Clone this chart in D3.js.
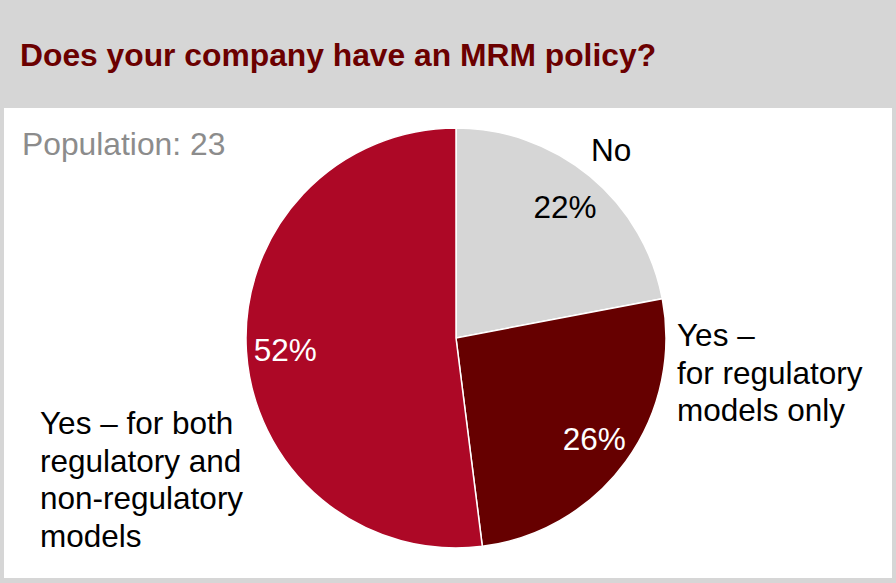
<!DOCTYPE html>
<html>
<head>
<meta charset="utf-8">
<script src="https://cdn.jsdelivr.net/npm/d3@7"></script>
<style>
  body { margin: 0; background: #d6d6d6; }
  svg { display: block; }
</style>
</head>
<body>
<script>
var width = 896;
var height = 583;

var categories = ['No', 'Yes – for regulatory models only', 'Yes – for both regulatory and non-regulatory models'];
var values = [22, 26, 52];
var colors = ['#d6d6d6', '#660000', '#ad0826'];
var labelColors = ['#000000', '#ffffff', '#ffffff'];

var title = 'Does your company have an MRM policy?';
var population = 'Population: 23';

var cx = 456;
var cy = 338;
var radius = 210;
var fontFamily = 'Liberation Sans, Arial, sans-serif';

var svg = d3.select('body')
  .append('svg')
  .attr('width', width)
  .attr('height', height);

svg.append('rect')
  .attr('width', width)
  .attr('height', height)
  .attr('fill', '#d6d6d6');

svg.append('rect')
  .attr('x', 4)
  .attr('y', 108)
  .attr('width', 888)
  .attr('height', 470)
  .attr('fill', '#ffffff');

svg.append('text')
  .attr('x', 20)
  .attr('y', 66)
  .attr('font-family', fontFamily)
  .attr('font-size', '31.8px')
  .attr('font-weight', 'bold')
  .attr('fill', '#6b0000')
  .text(title);

svg.append('text')
  .attr('x', 22)
  .attr('y', 155)
  .attr('font-family', fontFamily)
  .attr('font-size', '31.8px')
  .attr('fill', '#8c8c8c')
  .text(population);

var pie = d3.pie()
  .sort(null)
  .value(function(d) { return d; });

var arc = d3.arc()
  .innerRadius(0)
  .outerRadius(radius);

var labelArc = d3.arc()
  .innerRadius(171)
  .outerRadius(171);

var g = svg.append('g')
  .attr('transform', 'translate(' + cx + ',' + cy + ')');

var arcs = pie(values);

g.selectAll('path')
  .data(arcs)
  .enter()
  .append('path')
  .attr('d', arc)
  .attr('fill', function(d, i) { return colors[i]; })
  .attr('stroke', '#ffffff')
  .attr('stroke-width', 1.5);

g.selectAll('text.pct')
  .data(arcs)
  .enter()
  .append('text')
  .attr('class', 'pct')
  .attr('transform', function(d) { return 'translate(' + labelArc.centroid(d) + ')'; })
  .attr('dy', '0.38em')
  .attr('text-anchor', 'middle')
  .attr('font-family', fontFamily)
  .attr('font-size', '31.5px')
  .attr('fill', function(d, i) { return labelColors[i]; })
  .text(function(d) { return d.value + '%'; });

// category labels, broken into lines as in the original
var catLines = [
  { x: 591, y: 161, lines: ['No'] },
  { x: 677, y: 346, lines: ['Yes –', 'for regulatory', 'models only'] },
  { x: 40, y: 434, lines: ['Yes – for both', 'regulatory and', 'non-regulatory', 'models'] }
];

catLines.forEach(function(c) {
  var t = svg.append('text')
    .attr('font-family', fontFamily)
    .attr('font-size', '31.5px')
    .attr('fill', '#000000');
  c.lines.forEach(function(line, i) {
    t.append('tspan')
      .attr('x', c.x)
      .attr('y', c.y + i * 37.7)
      .text(line);
  });
});
</script>
</body>
</html>
